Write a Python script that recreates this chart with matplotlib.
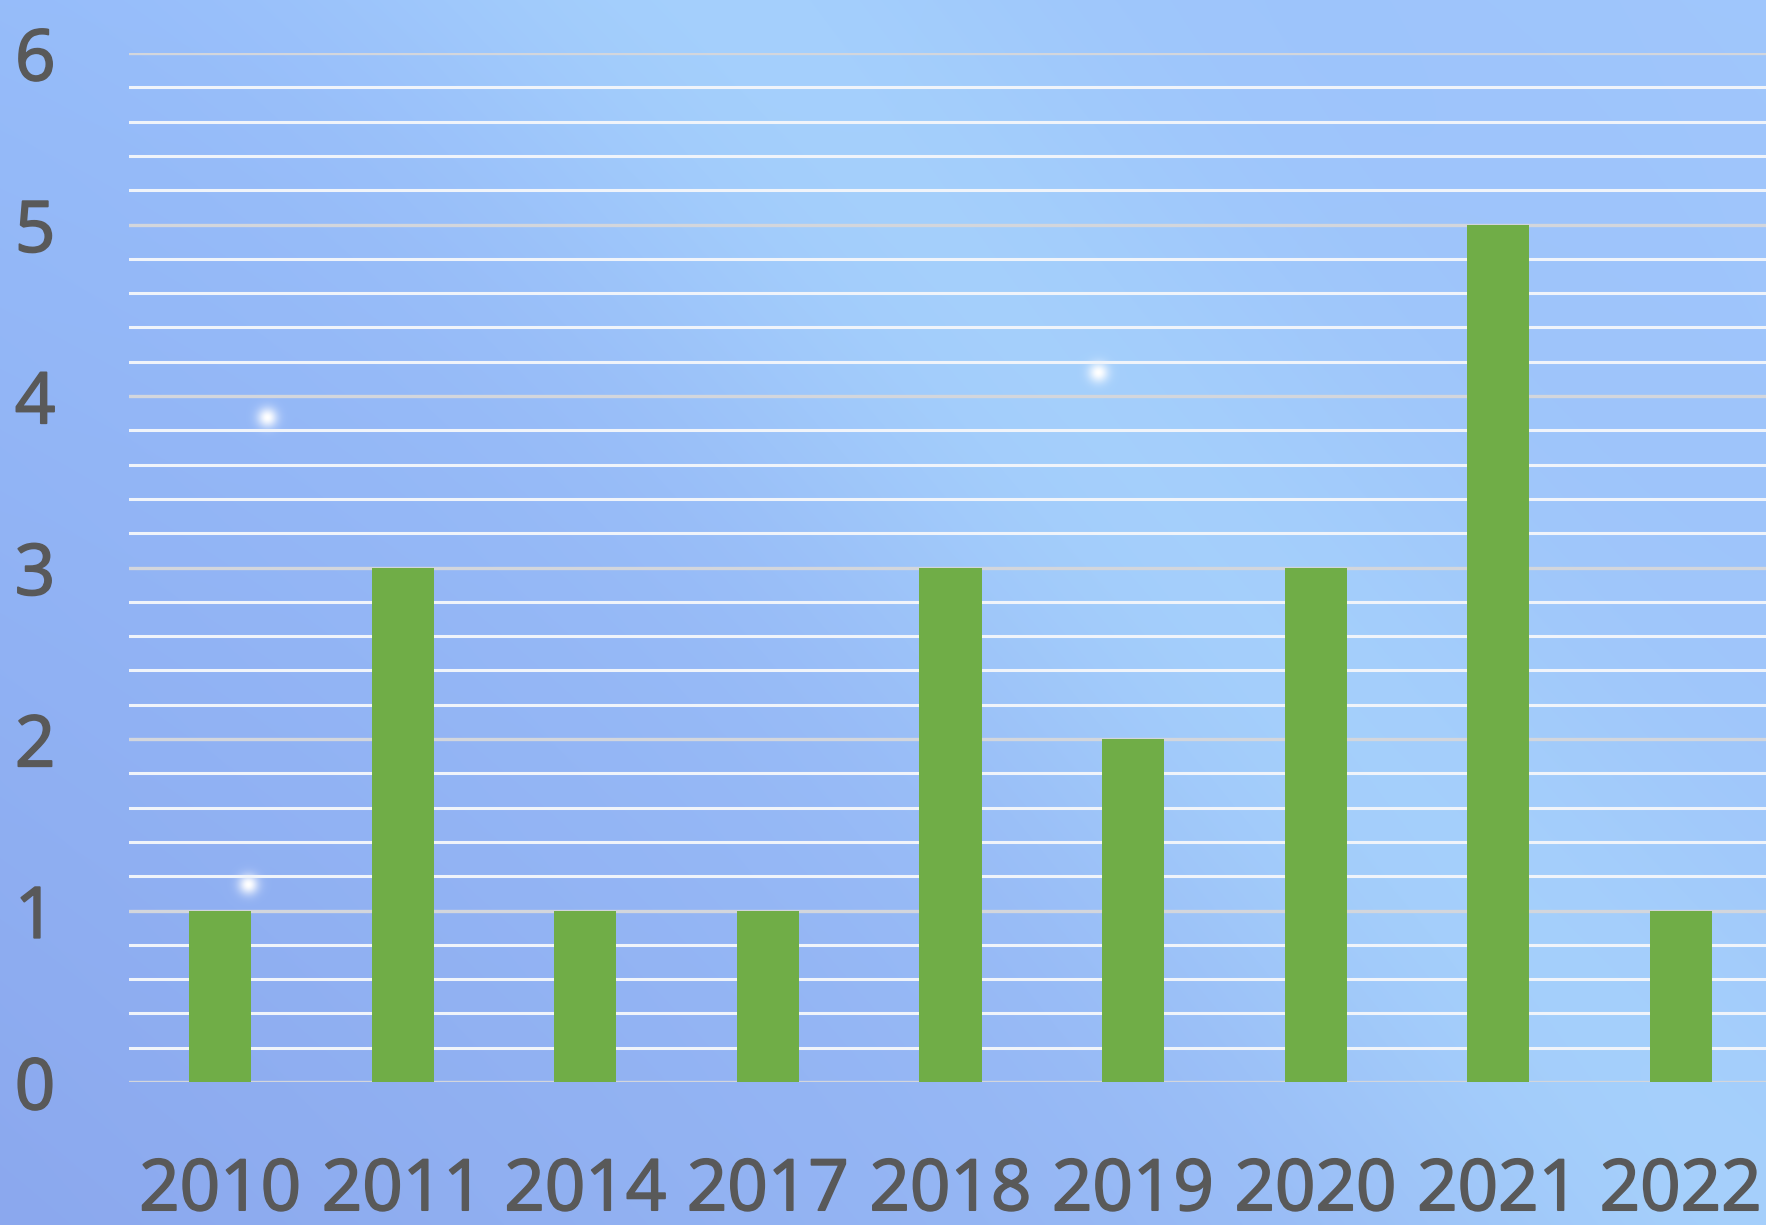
import numpy as np
import matplotlib
matplotlib.use("Agg")
import matplotlib.pyplot as plt
import matplotlib.patheffects as pe
from matplotlib.ticker import MultipleLocator

years = ["2010", "2011", "2014", "2017", "2018", "2019", "2020", "2021", "2022"]
counts = [1, 3, 1, 1, 3, 2, 3, 5, 1]
y_ticks = [0, 1, 2, 3, 4, 5, 6]

W, H = 1766, 1225
fig = plt.figure(figsize=(W / 100, H / 100), dpi=100)

# background gradient (decorative)
yy, xx = np.mgrid[0:H, 0:W].astype(float)
base_a = np.array([150, 188, 250]) / 255.0   # top-left
base_b = np.array([139, 168, 238]) / 255.0   # bottom-left
base_c = np.array([164, 203, 253]) / 255.0   # right
t_v = yy / H
t_h = xx / W
img = (base_a[None, None, :] * (1 - t_v[..., None]) + base_b[None, None, :] * t_v[..., None])
img = img * (1 - 0.7 * t_h[..., None]) + base_c[None, None, :] * 0.7 * t_h[..., None]
# light diagonal band
p0 = np.array([720.0, 0.0]); p1 = np.array([1760.0, 1225.0])
dvec = (p1 - p0) / np.linalg.norm(p1 - p0)
nvec = np.array([-dvec[1], dvec[0]])
dist = (xx - p0[0]) * nvec[0] + (yy - p0[1]) * nvec[1]
band = np.exp(-(dist / 280.0) ** 2)
light = np.array([170, 216, 253]) / 255.0
img = img * (1 - 0.65 * band[..., None]) + light[None, None, :] * 0.65 * band[..., None]
# small glints
for gx, gy in [(267, 417), (248, 884), (1098, 372)]:
    g = np.exp(-(((xx - gx) ** 2 + (yy - gy) ** 2) / (2 * 7.0 ** 2)))
    img = img * (1 - g[..., None]) + g[..., None] * 1.0
img = np.clip(img, 0, 1)
bg = fig.add_axes([0, 0, 1, 1], zorder=0)
bg.imshow(img, aspect="auto", extent=[0, 1, 0, 1], interpolation="bilinear")
bg.axis("off")

ax = fig.add_axes([129 / W, 143 / H, (1772 - 129) / W, (1082 - 53) / H], zorder=1)
ax.patch.set_alpha(0)
x = np.arange(len(years))
ax.bar(x, counts, width=0.34, color="#70AD47", zorder=3)
ax.set_xlim(-0.5, len(years) - 0.5)
ax.set_ylim(0, 6)
ax.set_yticks(y_ticks)
ax.yaxis.set_minor_locator(MultipleLocator(0.2))
ax.set_xticks(x)
ax.set_xticklabels(years)
ax.set_axisbelow(True)
ax.grid(axis="y", which="major", color="#D3D6DC", linewidth=2.4, zorder=1)
ax.grid(axis="y", which="minor", color="#F0F4FA", linewidth=2.2, zorder=1)
for s in ax.spines.values():
    s.set_visible(False)
ax.tick_params(which="both", length=0)
ax.tick_params(axis="y", pad=53, labelsize=51, labelcolor="#595959")
ax.tick_params(axis="x", pad=53, labelsize=51, labelcolor="#595959")
for lab in ax.get_xticklabels() + ax.get_yticklabels():
    lab.set_family("Open Sans")
    lab.set_path_effects([pe.withStroke(linewidth=1.3, foreground="#595959")])

fig.savefig("out.png", dpi=100)
